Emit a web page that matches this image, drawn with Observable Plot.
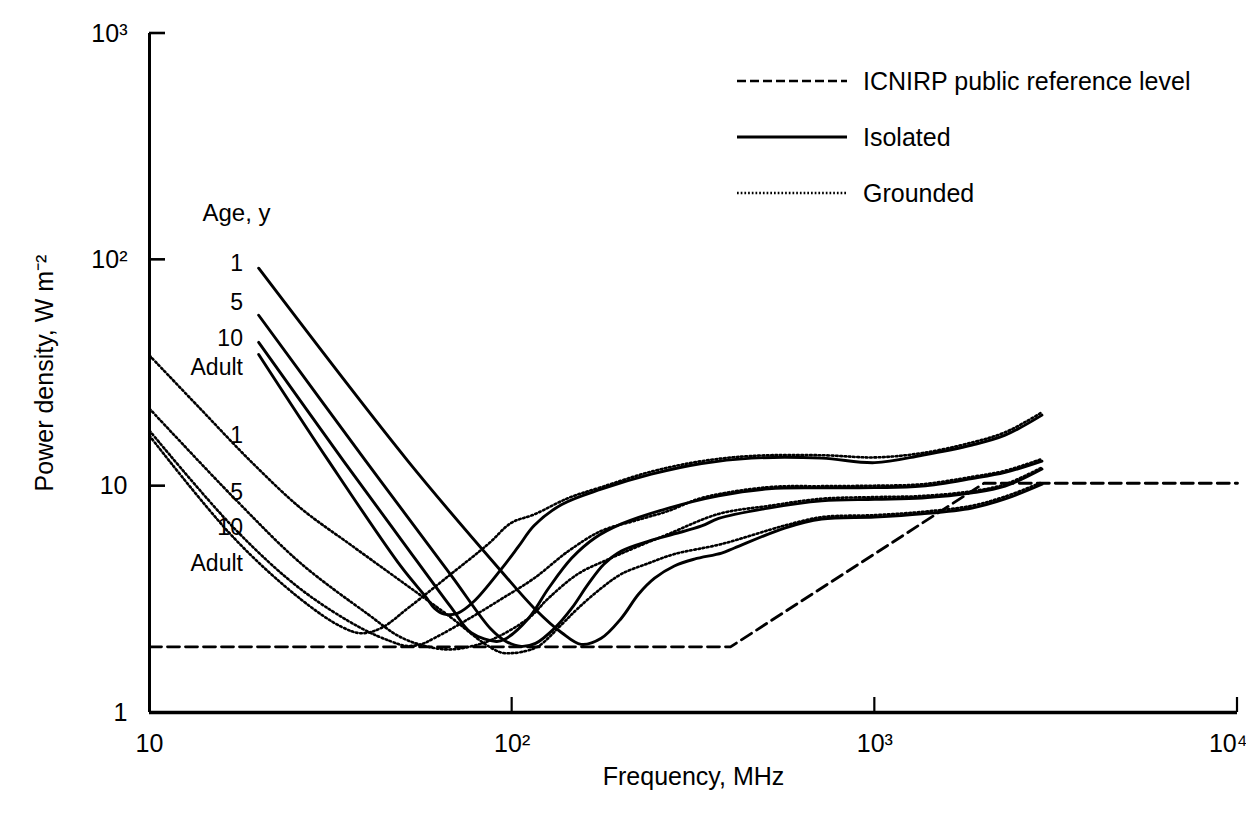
<!DOCTYPE html>
<html>
<head>
<meta charset="utf-8">
<script src="https://cdn.jsdelivr.net/npm/d3@7"></script>
<script src="https://cdn.jsdelivr.net/npm/@observablehq/plot@0.6"></script>
<style>
  html, body { margin: 0; padding: 0; background: #fff; }
  #chart { width: 1246px; height: 829px; }
</style>
</head>
<body>
<div id="chart"></div>
<script>
// ---------- data (frequency MHz, power density W m^-2) ----------
const icnirp = [[10, 1.95], [400, 1.95], [2000, 10.3], [10000, 10.3]];

const isolatedAdult = [[20,38.2],[31.2,12.9],[49.3,4.43],[57.8,3.24],[61,2.89],[65,2.72],[70.9,2.75],[78.5,3.1],[93.3,4.3],[104,5.4],[115,6.7],[137,8.3],[176,9.7],[242,11.3],[333,12.6],[457,13.3],[714,13.3],[1000,12.7],[1349,13.7],[1854,15.2],[2287,16.8],[2890,20.6]];
const isolated10 = [[20,43.2],[34.3,12.9],[49.3,5.84],[67.8,2.92],[77.1,2.25],[90.4,2.06],[95.1,2.1],[111,2.61],[126,3.54],[146,4.81],[169,5.9],[200,6.81],[270,8.0],[371,9.06],[509,9.73],[714,9.83],[1000,9.85],[1349,10.0],[1854,10.8],[2287,11.5],[2890,12.9]];
const isolated5 = [[20,56.9],[39.5,12.9],[67.8,4.05],[87.5,2.33],[96.2,2.06],[106,1.96],[116,2.02],[131,2.36],[146,2.89],[162,3.69],[179,4.52],[200,5.17],[238,5.72],[280,6.15],[333,6.67],[371,7.2],[509,8.0],[714,8.61],[1000,8.75],[1349,8.87],[1854,9.34],[2287,10.0],[2890,11.9]];
const isolated1 = [[20,91.8],[51.6,12.9],[93.3,4.21],[115,2.89],[137,2.25],[155,2.0],[176,2.13],[200,2.61],[223,3.33],[247,3.92],[280,4.44],[318,4.76],[378,5.06],[410,5.33],[564,6.53],[714,7.16],[1000,7.3],[1349,7.54],[1854,8.01],[2287,8.78],[2890,10.2]];

const groundedAdult = [[10,16.7],[17.1,5.9],[26.1,3.17],[33.7,2.4],[38.3,2.24],[43.5,2.36],[51.6,2.89],[67.8,4.09],[85.9,5.55],[99.4,6.88],[115,7.5],[143,8.87],[176,9.9],[242,11.6],[333,12.9],[457,13.6],[714,13.7],[1000,13.4],[1349,14.0],[1854,15.6],[2287,17.3],[2890,21.2]];
const grounded10 = [[10,17.6],[17.1,6.53],[26.1,3.51],[38.3,2.36],[46.4,2.06],[50.9,1.97],[56,2.0],[61,2.13],[75.5,2.58],[93.3,3.17],[115,3.92],[143,5.17],[176,6.34],[217,7.02],[270,7.78],[333,8.87],[509,9.9],[714,10.0],[1000,10.05],[1349,10.2],[1854,11.0],[2287,11.7],[2890,13.2]];
const grounded5 = [[10,22.0],[17.1,8.87],[26.1,4.57],[40,2.72],[49.3,2.15],[59.7,1.94],[67.8,1.9],[77.1,1.96],[88,2.1],[111,2.61],[126,3.2],[152,4.1],[184,4.75],[217,5.33],[270,6.15],[371,7.54],[509,8.18],[714,8.8],[1000,8.95],[1349,9.05],[1854,9.5],[2287,10.2],[2890,12.1]];
const grounded1 = [[10,37.8],[13.8,22.0],[19,12.9],[26.1,8.0],[35.9,5.5],[49.3,3.81],[67.8,2.63],[83.7,2.02],[93.3,1.84],[100,1.83],[106,1.85],[118,1.96],[137,2.45],[152,2.89],[176,3.54],[200,4.09],[238,4.57],[280,5.01],[378,5.55],[564,6.7],[714,7.3],[1000,7.45],[1349,7.7],[1854,8.2],[2287,9.0],[2890,10.4]];

const ageNames = ["1", "5", "10", "Adult"];
const isoLabelPower = [96.6, 64.9, 44.9, 33.4];
const grdLabelPower = [16.7, 9.34, 6.53, 4.57];
const labelFreq = 18.1;
const ageTitle = "Age, y";
const ageTitlePos = [14.0, 161];

const xTicks = [10, 100, 1000, 10000];
const yTicks = [1, 10, 100, 1000];
const xTitle = "Frequency, MHz";
const yTitle = "Power density, W m\u207B\u00B2";
const legendItems = ["ICNIRP public reference level", "Isolated", "Grounded"];

// ---------- build tables ----------
const toRows = (pts, series) => pts.map(([f, p]) => ({f, p, series}));
const isolatedRows = [
  ...toRows(isolatedAdult, "Adult"), ...toRows(isolated10, "10"),
  ...toRows(isolated5, "5"), ...toRows(isolated1, "1")
];
const groundedRows = [
  ...toRows(groundedAdult, "Adult"), ...toRows(grounded10, "10"),
  ...toRows(grounded5, "5"), ...toRows(grounded1, "1")
];
const icnirpRows = toRows(icnirp, "ICNIRP");
const isoLabels = ageNames.map((t, i) => ({t, f: labelFreq, p: isoLabelPower[i]}));
const grdLabels = ageNames.map((t, i) => ({t, f: labelFreq, p: grdLabelPower[i]}));

const sup = {1: "", 2: "\u00B2", 3: "\u00B3", 4: "\u2074"};
const fmt = d => d === 1 ? "1" : "10" + sup[Math.round(Math.log10(d))];

const FONT = "'Liberation Sans', Arial, Helvetica, sans-serif";
const DOT = "1.7 2.6";

const chart = Plot.plot({
  width: 1246,
  height: 829,
  marginLeft: 149,
  marginRight: 9,
  marginTop: 33,
  marginBottom: 117,
  x: {type: "log", domain: [10, 10000]},
  y: {type: "log", domain: [1, 1000]},
  style: {fontFamily: FONT, fontSize: "25px", color: "#000", background: "#fff", overflow: "visible"},
  marks: [
    Plot.ruleX([10], {stroke: "#000", strokeWidth: 3}),
    Plot.ruleY([1], {stroke: "#000", strokeWidth: 3.4}),
    Plot.axisX(xTicks.slice(0, 3), {tickSize: 0, tickPadding: 22, tickFormat: fmt, label: null, fontSize: 25}),
    Plot.axisX(xTicks.slice(3), {tickSize: 0, tickPadding: 22, tickFormat: fmt, label: null, fontSize: 25, textAnchor: "end", dx: 10}),
    Plot.axisY(yTicks, {tickSize: 0, tickPadding: 22, tickFormat: fmt, label: null, fontSize: 25}),
    Plot.line(icnirpRows, {x: "f", y: "p", stroke: "#000", strokeWidth: 2.8, strokeDasharray: "12 6"}),
    Plot.line(groundedRows, {x: "f", y: "p", z: "series", curve: "catmull-rom", stroke: "#000", strokeWidth: 2.6, strokeDasharray: DOT}),
    Plot.line(isolatedRows, {x: "f", y: "p", z: "series", curve: "catmull-rom", stroke: "#000", strokeWidth: 2.9}),
    Plot.text(isoLabels, {x: "f", y: "p", text: "t", textAnchor: "end", fontSize: 23, fill: "#000"}),
    Plot.text(grdLabels, {x: "f", y: "p", text: "t", textAnchor: "end", fontSize: 23, fill: "#000"}),
    Plot.text([ageTitle], {x: ageTitlePos[0], y: ageTitlePos[1], text: d => d, textAnchor: "start", fontSize: 24, fill: "#000"}),
    Plot.text([xTitle], {frameAnchor: "bottom", text: d => d, textAnchor: "middle", dy: 72, fontSize: 25, fill: "#000"}),
    Plot.text([yTitle], {frameAnchor: "left", text: d => d, textAnchor: "middle", rotate: -90, dx: -105, fontSize: 25, fill: "#000"})
  ]
});

document.getElementById("chart").appendChild(chart);

// ---------- inward ticks, placed through the plot's own scales ----------
const sx = chart.scale("x"), sy = chart.scale("y");
const svg = d3.select(chart);
const xBase = sy.apply(yTicks[0]);
const yBase = sx.apply(xTicks[0]);
const tg = svg.append("g").attr("stroke", "#000");
xTicks.slice(1).forEach(t => {
  const x = sx.apply(t);
  tg.append("line").attr("x1", x).attr("x2", x).attr("y1", xBase).attr("y2", xBase - 15).attr("stroke-width", 2.2);
});
yTicks.slice(1).forEach(t => {
  const y = sy.apply(t);
  tg.append("line").attr("x1", yBase).attr("x2", yBase + 16).attr("y1", y).attr("y2", y).attr("stroke-width", 2.6);
});

// ---------- legend (inside the SVG, top right) ----------
const lg = svg.append("g").attr("font-family", FONT).attr("font-size", 25).attr("text-anchor", "start");
const dashes = ["9 4", null, "1.7 2"];
const widths = [2.6, 2.8, 2.4];
legendItems.forEach((label, i) => {
  const y = 81 + i * 56;
  const ln = lg.append("line").attr("x1", 737).attr("x2", 847).attr("y1", y).attr("y2", y)
    .attr("stroke", "#000").attr("stroke-width", widths[i]);
  if (dashes[i]) ln.attr("stroke-dasharray", dashes[i]);
  lg.append("text").attr("x", 863).attr("y", y).attr("dy", "0.35em").attr("fill", "#000")
    .attr("text-anchor", "start").text(label);
});
</script>
</body>
</html>
